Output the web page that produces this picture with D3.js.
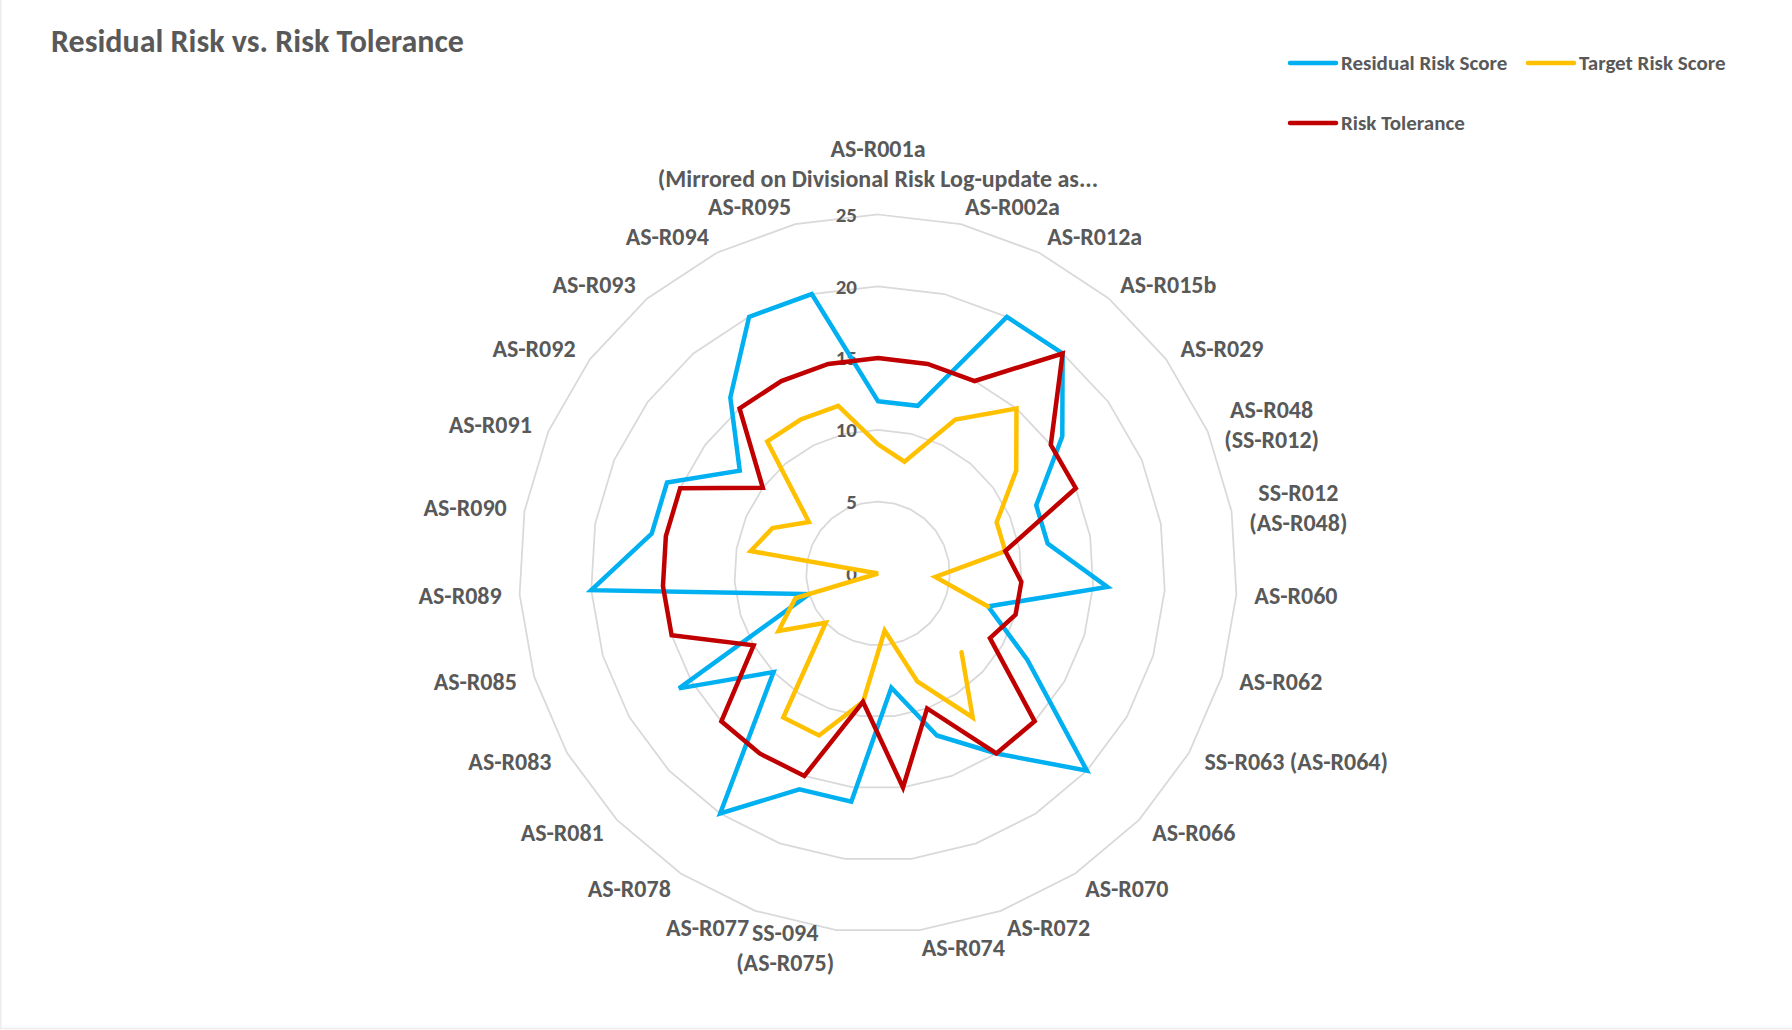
<!DOCTYPE html>
<html>
<head>
<meta charset="utf-8">
<script src="https://cdn.jsdelivr.net/npm/d3@7"></script>
<style>
    html, body { margin: 0; padding: 0; background: #fff; }
    svg { display: block; }
</style>
</head>
<body>
<svg id="chart"></svg>
<script>
// categories clockwise from the top, "\n" marks where the label wraps
const categories = [
    "AS-R001a\n(Mirrored on Divisional Risk Log-update as...",
    "AS-R002a", "AS-R012a", "AS-R015b", "AS-R029",
    "AS-R048\n(SS-R012)", "SS-R012\n(AS-R048)",
    "AS-R060", "AS-R062", "SS-R063 (AS-R064)", "AS-R066", "AS-R070",
    "AS-R072", "AS-R074", "SS-094\n(AS-R075)", "AS-R077", "AS-R078",
    "AS-R081", "AS-R083", "AS-R085", "AS-R089", "AS-R090", "AS-R091",
    "AS-R092", "AS-R093", "AS-R094", "AS-R095"
];
const seriesNames = ["Residual Risk Score", "Target Risk Score", "Risk Tolerance"];
const residualRisk = [12, 12, 20, 20, 16, 12, 12, 16, 8, 12, 20, 15, 12, 8, 16, 16, 20, 10, 16, 5, 20, 16, 16, 12, 16, 20, 20];
const targetRisk = [9, 8, 12, 15, 12, 9, 9, 4, 8, null, 8, 12, 8, 4, 9, 12, 12, 5, 8, 6, 0, 9, 8, 6, 12, 12, 12];
const riskTolerance = [15, 15, 15, 20, 15, 15, 9, 10, 10, 9, 15, 15, 10, 15, 9, 15, 15, 15, 10, 15, 15, 15, 15, 10, 15, 15, 15];
const radialTicks = [0, 5, 10, 15, 20, 25];

const width = 1792;
const height = 1030;
const cx = 878;
const cy = 573.5;
const R = 359;
const textColor = "#595959";
const colors = ["#00b0f0", "#ffc000", "#c00000"];

const n = categories.length;
const angle = d3.scaleLinear().domain([0, n]).range([0, 2 * Math.PI]);
const r = d3.scaleLinear().domain([0, d3.max(radialTicks)]).range([0, R]);

const svg = d3.select("#chart")
    .attr("width", width)
    .attr("height", height)
    .style("font-family", "Carlito, Lato, sans-serif")
    .style("font-weight", "bold");

// faint chart-area border (left and bottom only are visible)
svg.append("path")
    .attr("d", `M0.75,0V${height - 1.5}H${width}`)
    .attr("fill", "none")
    .attr("stroke", "#ececec")
    .attr("stroke-width", 1.5);

svg.append("text")
    .attr("x", 51)
    .attr("y", 52)
    .attr("fill", textColor)
    .style("font-size", "32px")
    .text("Residual Risk vs. Risk Tolerance");

const g = svg.append("g").attr("transform", `translate(${cx},${cy})`);

// grid rings
const ring = d3.lineRadial()
    .angle(d => angle(d.i))
    .radius(d => r(d.v))
    .curve(d3.curveLinearClosed);

g.append("g")
    .selectAll("path")
    .data(radialTicks.filter(t => t > 0))
    .join("path")
    .attr("d", t => ring(d3.range(n).map(i => ({i: i, v: t}))))
    .attr("fill", "none")
    .attr("stroke", "#d9d9d9")
    .attr("stroke-width", 1.75);

g.append("g")
    .selectAll("text")
    .data(radialTicks)
    .join("text")
    .attr("x", -21)
    .attr("y", t => -r(t))
    .attr("dy", "0.35em")
    .attr("text-anchor", "end")
    .attr("fill", textColor)
    .style("font-size", "21px")
    .text(t => t);

// series: a blank value leaves a gap, so open the polygon there
function seriesPoints(values) {
    const gap = values.findIndex(v => v === null);
    if (gap < 0) {
        return {closed: true, pts: values.map((v, i) => ({i: i, v: v}))};
    }
    return {closed: false, pts: d3.range(n + 1).map(k => {
        const i = (gap + k) % n;
        return {i: i, v: values[i]};
    })};
}

const seriesData = [residualRisk, targetRisk, riskTolerance];

g.append("g")
    .selectAll("path")
    .data(seriesData)
    .join("path")
    .attr("d", values => {
        const s = seriesPoints(values);
        return d3.lineRadial()
            .angle(d => angle(d.i))
            .radius(d => r(d.v))
            .defined(d => d.v !== null)
            .curve(s.closed ? d3.curveLinearClosed : d3.curveLinear)(s.pts);
    })
    .attr("fill", "none")
    .attr("stroke", (d, i) => colors[i])
    .attr("stroke-width", 4.5)
    .attr("stroke-linejoin", "miter")
    .attr("stroke-linecap", "round");

// category labels
const labelOffset = 18;
const lineHeight = 30;
const labels = g.append("g")
    .attr("fill", textColor)
    .style("font-size", "24px");

categories.forEach((name, i) => {
    const a = angle(i);
    const sin = Math.sin(a);
    const cos = Math.cos(a);
    const px = (R + labelOffset) * sin;
    const py = -(R + labelOffset) * cos;
    const lines = name.split("\n");

    const label = labels.append("text");
    const spans = lines.map(line => label.append("tspan").text(line));
    const w = d3.max(spans, s => s.node().getComputedTextLength());

    let bx = px;
    if (sin > 0.01) bx = px + w / 2;
    if (sin < -0.01) bx = px - w / 2;

    let firstY = py - (lines.length - 1) * lineHeight / 2;
    if (Math.abs(sin) < 0.01 && cos > 0) {
        // the top label sits wholly above its spoke
        firstY = py - lines.length * lineHeight + lineHeight / 2 - 3;
    }

    spans.forEach((s, k) => {
        s.attr("x", bx)
            .attr("y", firstY + k * lineHeight)
            .attr("dy", "0.35em")
            .attr("text-anchor", "middle");
    });
});

// legend
const legendPos = [[1290, 63], [1528, 63], [1290, 123]];
const legend = svg.append("g")
    .selectAll("g")
    .data(seriesNames)
    .join("g")
    .attr("transform", (d, i) => `translate(${legendPos[i][0]},${legendPos[i][1]})`);

legend.append("line")
    .attr("x1", 0)
    .attr("x2", 46)
    .attr("stroke", (d, i) => colors[i])
    .attr("stroke-width", 4.5)
    .attr("stroke-linecap", "round");

legend.append("text")
    .attr("x", 51)
    .attr("dy", "0.35em")
    .attr("fill", textColor)
    .style("font-size", "21px")
    .text(d => d);
</script>
</body>
</html>
